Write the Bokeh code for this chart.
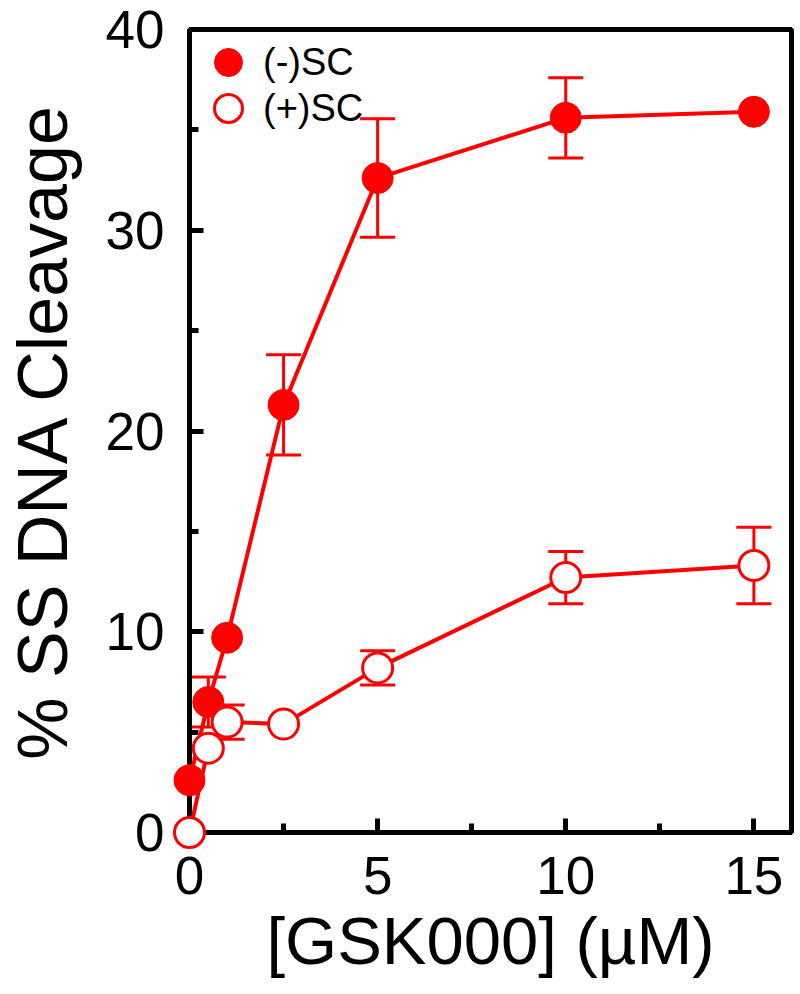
from bokeh.plotting import figure
from bokeh.models import (ColumnDataSource, Whisker, TeeHead, Legend, LegendItem,
                          Range1d, SingleIntervalTicker)
from bokeh.embed import file_html
from bokeh.resources import INLINE

# ---------------- data ----------------
conc = [0, 0.5, 1, 2.5, 5, 10, 15]
neg_sc = [2.6, 6.5, 9.7, 21.3, 32.6, 35.6, 35.9]
neg_err = [0.0, 1.25, 0.0, 2.5, 2.95, 2.0, 0.0]
pos_sc = [0.0, 4.2, 5.5, 5.4, 8.2, 12.7, 13.3]
pos_err = [0.0, 0.0, 0.85, 0.0, 0.85, 1.3, 1.9]
series_names = ["(-)SC", "(+)SC"]
x_label = "[GSK000] (µM)"
y_label = "% SS DNA Cleavage"
x_tick_step = 5
y_tick_step = 10

RED = "#ff0000"
FONT = "Liberation Sans"

p = figure(width=800, height=994, output_backend="svg", toolbar_location=None,
           x_range=Range1d(0, 16), y_range=Range1d(0, 40),
           min_border_left=189, min_border_right=9, min_border_top=29,
           min_border_bottom=162)
p.grid.visible = False
p.outline_line_color = "black"
p.outline_line_width = 5
p.background_fill_color = "white"
p.border_fill_color = "white"

p.xaxis.ticker = SingleIntervalTicker(interval=x_tick_step, num_minor_ticks=2)
p.yaxis.ticker = SingleIntervalTicker(interval=y_tick_step, num_minor_ticks=2)
p.xaxis.axis_label = x_label
p.yaxis.axis_label = y_label

for ax in (p.xaxis[0], p.yaxis[0]):
    ax.axis_line_width = 5
    ax.axis_line_color = "black"
    ax.major_tick_line_width = 5
    ax.minor_tick_line_width = 5
    ax.major_tick_in = 14
    ax.major_tick_out = 0
    ax.minor_tick_in = 9
    ax.minor_tick_out = 0
    ax.major_label_text_font = FONT
    ax.major_label_text_font_size = "53px"
    ax.major_label_text_color = "black"
    ax.axis_label_text_font = FONT
    ax.axis_label_text_font_style = "normal"
    ax.axis_label_text_color = "black"

p.xaxis.axis_label_text_font_size = "67px"
p.yaxis.axis_label_text_font_size = "70px"
p.xaxis.major_label_standoff = 24
p.xaxis.axis_label_standoff = 6
p.yaxis.major_label_standoff = 25
p.yaxis.axis_label_standoff = 21

def bars(xs, ys, errs):
    keep = [i for i, e in enumerate(errs) if e > 0]
    return ColumnDataSource(dict(
        x=[xs[i] for i in keep],
        upper=[ys[i] + errs[i] for i in keep],
        lower=[ys[i] - errs[i] for i in keep]))

for ys, errs in ((neg_sc, neg_err), (pos_sc, pos_err)):
    w = Whisker(source=bars(conc, ys, errs), base="x", upper="upper", lower="lower",
                dimension="height", line_color=RED, line_width=3, level="underlay",
                upper_head=TeeHead(size=35, line_color=RED, line_width=3),
                lower_head=TeeHead(size=35, line_color=RED, line_width=3))
    p.add_layout(w)

neg_src = ColumnDataSource(dict(x=conc, y=neg_sc))
pos_src = ColumnDataSource(dict(x=conc, y=pos_sc))

p.line("x", "y", source=neg_src, line_color=RED, line_width=4, level="overlay")
r_neg = p.scatter("x", "y", source=neg_src, size=31, fill_color=RED,
                  line_color=RED, line_width=1, level="overlay")
p.line("x", "y", source=pos_src, line_color=RED, line_width=4, level="overlay")
r_pos = p.scatter("x", "y", source=pos_src, size=30, fill_color="white",
                  line_color=RED, line_width=3, level="overlay")

# one legend per entry so each can be placed on its own
for name, rend, loc in ((series_names[0], r_neg, (4, 730)),
                        (series_names[1], r_pos, (4, 684))):
    lg = Legend(items=[LegendItem(label=name, renderers=[rend])],
                location=loc, glyph_width=70, glyph_height=80,
                padding=0, margin=0, border_line_color=None,
                background_fill_alpha=0, label_text_font=FONT,
                label_text_color="black",
                label_text_font_size="38px", label_standoff=0)
    p.add_layout(lg)

open("out.html", "w").write(file_html(p, INLINE))
